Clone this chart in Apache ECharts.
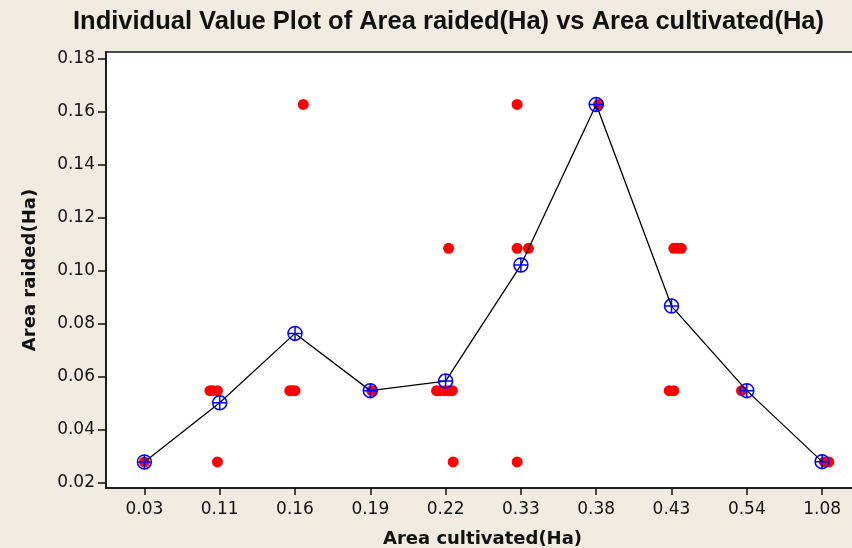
<!DOCTYPE html>
<html>
<head>
<meta charset="utf-8">
<title>Individual Value Plot</title>
<script src="https://cdn.jsdelivr.net/npm/echarts@6/dist/echarts.min.js"></script>
<style>
  html, body { margin: 0; padding: 0; background: #efebe1; }
  #main { width: 852px; height: 548px; }
</style>
</head>
<body>
<div id="main"></div>
<script>
// 分类 (Area cultivated)
var catLabels = ['0.03', '0.11', '0.16', '0.19', '0.22', '0.33', '0.38', '0.43', '0.54', '1.08'];
// 各分类均值 (蓝色 ⊕)
var means = [0.0277, 0.0500, 0.0762, 0.0546, 0.0582, 0.1020, 0.1626, 0.0865, 0.0546, 0.0278];
// 单个观测值：所属分类、数值、水平抖动(分类单位)
var ptCat    = [0,      1,      1,      1,      1,      2,      2,      2,      2,      3,      4,      4,      4,      4,      4,      4,      4,      5,      5,      5,      5,      6,      7,      7,      7,      7,      7,      8,      9,      9];
var ptVal    = [0.0277, 0.0546, 0.0546, 0.0546, 0.0277, 0.0546, 0.0546, 0.0546, 0.1626, 0.0546, 0.0546, 0.0546, 0.0546, 0.0546, 0.0546, 0.1083, 0.0277, 0.1083, 0.1083, 0.1626, 0.0277, 0.1626, 0.1083, 0.1083, 0.1083, 0.0546, 0.0546, 0.0546, 0.0277, 0.0277];
var ptJitter = [0,      -0.13,  -0.09,  -0.03,  -0.03,  -0.07,  -0.04,  0,      0.11,   0.02,   -0.12,  -0.07,  -0.01,  0.04,   0.09,   0.04,   0.10,   -0.05,  0.10,   -0.05,  -0.05,  0.03,   0.03,   0.08,   0.13,   -0.03,  0.03,   -0.07,  0.03,   0.09];
// 刻度
var yTicks = [0.02, 0.04, 0.06, 0.08, 0.10, 0.12, 0.14, 0.16, 0.18];
var xTicks = [0, 1, 2, 3, 4, 5, 6, 7, 8, 9];

var points = [];
for (var i = 0; i < ptCat.length; i++) {
  points.push([ptCat[i] + ptJitter[i], ptVal[i]]);
}
var meanData = [];
for (var j = 0; j < means.length; j++) {
  meanData.push([j, means[j]]);
}

var tickFont = { fontFamily: 'DejaVu Sans', fontSize: 17, color: '#111' };
var nameFont = { fontFamily: 'DejaVu Sans', fontWeight: 'bold', fontSize: 18, color: '#111' };
// 圆圈加十字
var crossCircle = 'path://M0,10 A10,10 0 1,1 20,10 A10,10 0 1,1 0,10 Z M10,0 L10,20 M0,10 L20,10';

var myChart = echarts.init(document.getElementById('main'));
var option = {
  backgroundColor: '#efebe1',
  animation: false,
  title: {
    text: 'Individual Value Plot of Area raided(Ha) vs Area cultivated(Ha)',
    left: 68,
    top: 4,
    textStyle: {
      fontFamily: 'Liberation Sans',
      fontWeight: 'bold',
      fontSize: 25.5,
      color: '#111'
    }
  },
  grid: {
    left: 106,
    top: 52,
    width: 753,
    height: 436,
    outerBoundsMode: 'none',
    show: true,
    backgroundColor: '#fff',
    borderColor: '#111',
    borderWidth: 1.5
  },
  xAxis: {
    type: 'value',
    min: -0.51,
    max: 9.49,
    name: 'Area cultivated(Ha)',
    nameLocation: 'middle',
    nameGap: 42,
    nameTextStyle: nameFont,
    splitLine: { show: false },
    axisLine: { onZero: false, lineStyle: { color: '#111', width: 1.5 } },
    axisTick: { customValues: xTicks, length: 7, lineStyle: { color: '#111', width: 1.5 } },
    axisLabel: {
      customValues: xTicks,
      margin: 13,
      formatter: function (v) { return catLabels[Math.round(v)]; },
      fontFamily: tickFont.fontFamily, fontSize: tickFont.fontSize, color: tickFont.color
    }
  },
  yAxis: {
    type: 'value',
    min: 0.01785,
    max: 0.1824,
    name: 'Area raided(Ha)',
    nameLocation: 'middle',
    nameGap: 67,
    nameTextStyle: nameFont,
    splitLine: { show: false },
    axisLine: { show: true, onZero: false, lineStyle: { color: '#111', width: 1.5 } },
    axisTick: { show: true, customValues: yTicks, length: 8, lineStyle: { color: '#111', width: 1.5 } },
    axisLabel: {
      customValues: yTicks,
      margin: 11,
      formatter: function (v) { return v.toFixed(2); },
      fontFamily: tickFont.fontFamily, fontSize: tickFont.fontSize, color: tickFont.color
    }
  },
  series: [
    {
      name: '观测值',
      type: 'scatter',
      data: points,
      symbol: 'circle',
      symbolSize: 11,
      itemStyle: { color: '#ff0000', opacity: 1 },
      z: 2
    },
    {
      name: '均值',
      type: 'line',
      data: meanData,
      symbol: crossCircle,
      symbolSize: 14,
      showAllSymbol: true,
      lineStyle: { color: '#000', width: 1.3 },
      itemStyle: { color: 'none', borderColor: '#0000ff', borderWidth: 1.5 },
      z: 3
    }
  ]
};
myChart.setOption(option);
</script>
</body>
</html>
